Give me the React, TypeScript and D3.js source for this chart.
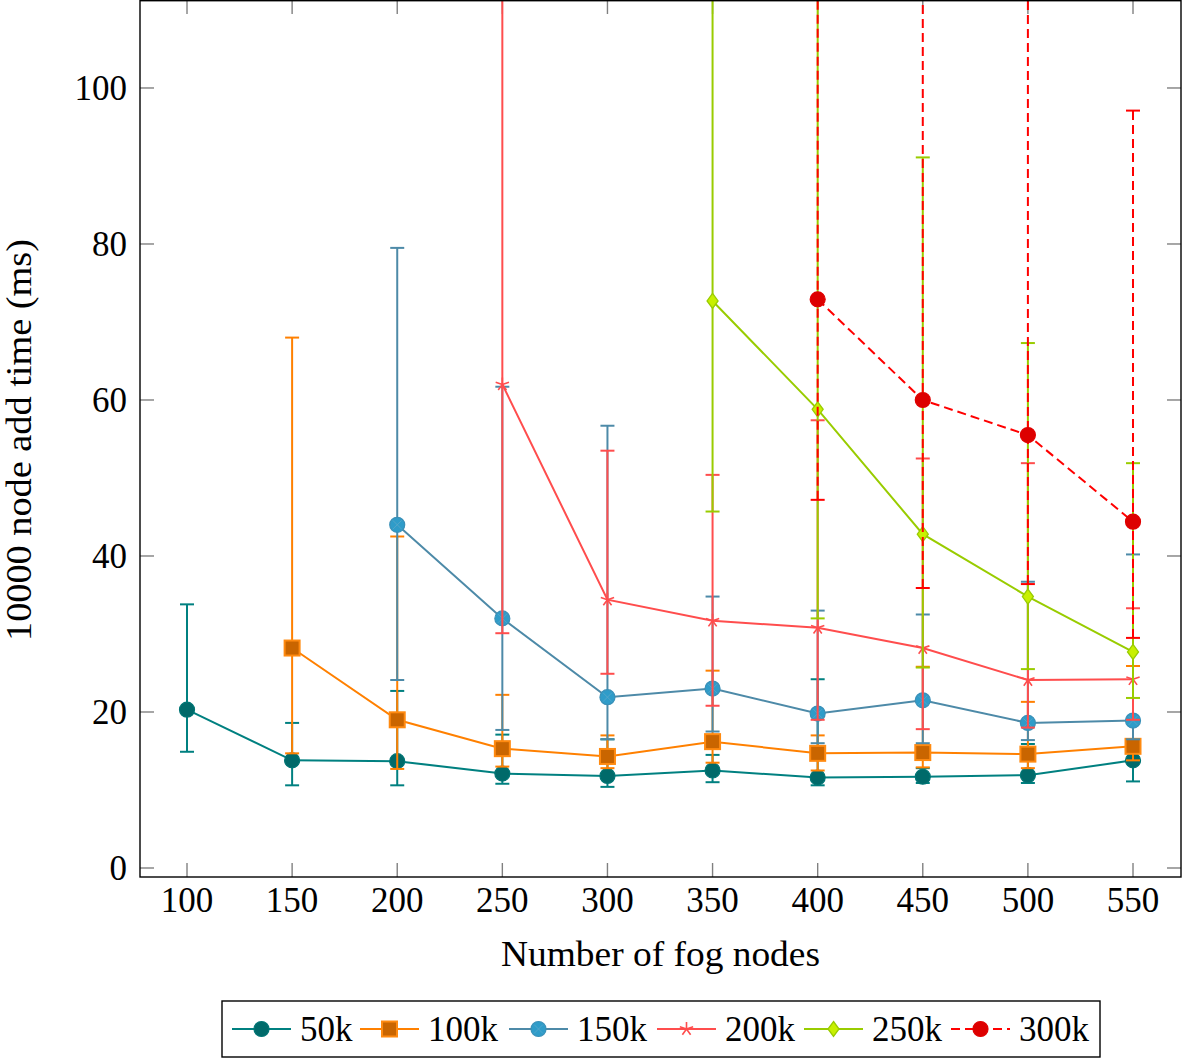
import React from 'react';
import * as d3 from 'd3';

// ---- data ----
const fogNodes = [100, 150, 200, 250, 300, 350, 400, 450, 500, 550];
const yTicks = [0, 20, 40, 60, 80, 100];

const x50k = [100, 150, 200, 250, 300, 350, 400, 450, 500, 550];
const mean50k = [20.3, 13.8, 13.7, 12.1, 11.8, 12.5, 11.6, 11.7, 11.9, 13.8];
const low50k = [14.9, 10.6, 10.6, 10.8, 10.4, 11.0, 10.6, 10.9, 10.9, 11.1];
const high50k = [33.8, 18.6, 22.7, 17.1, 16.5, 14.5, 24.2, 12.8, 15.9, 16.0];

const x100k = [150, 200, 250, 300, 350, 400, 450, 500, 550];
const mean100k = [28.2, 19.0, 15.3, 14.3, 16.2, 14.7, 14.8, 14.6, 15.6];
const low100k = [14.7, 12.7, 13.0, 12.8, 13.5, 12.5, 12.9, 12.8, 13.8];
const high100k = [68.0, 42.5, 22.2, 17.0, 25.3, 17.0, 25.8, 21.3, 25.9];

const x150k = [200, 250, 300, 350, 400, 450, 500, 550];
const mean150k = [44.0, 32.0, 21.9, 23.0, 19.8, 21.5, 18.6, 18.9];
const low150k = [24.1, 17.7, 16.5, 17.5, 16.0, 16.0, 16.4, 16.5];
const high150k = [79.5, 61.7, 56.7, 34.8, 33.0, 32.5, 36.7, 40.2];

const x200k = [250, 300, 350, 400, 450, 500, 550];
const mean200k = [62.0, 34.4, 31.7, 30.8, 28.2, 24.1, 24.2];
const low200k = [30.1, 24.9, 20.8, 19.0, 17.8, 18.0, 19.0];
const high200k = [130, 53.5, 50.4, 57.4, 52.5, 51.9, 33.3];

const x250k = [350, 400, 450, 500, 550];
const mean250k = [72.7, 58.8, 42.8, 34.8, 27.7];
const low250k = [45.7, 32.0, 25.7, 25.5, 21.8];
const high250k = [130, 130, 91.1, 67.3, 51.9];

const x300k = [400, 450, 500, 550];
const mean300k = [72.9, 60.0, 55.5, 44.4];
const low300k = [47.2, 35.9, 36.4, 29.5];
const high300k = [130, 130, 130, 97.1];

const seriesNames = ['50k', '100k', '150k', '200k', '250k', '300k'];

// ---- styles ----
type Style = { line: string; fill: string; stroke: string; mark: string; dash?: string };
const styles: Style[] = [
  { line: '#008080', fill: '#006a6a', stroke: '#007575', mark: 'circle' },
  { line: '#ff8000', fill: '#c96500', stroke: '#ff8a10', mark: 'square' },
  { line: '#4d8aa8', fill: '#2f9cc9', stroke: '#3a90b8', mark: 'ocircle' },
  { line: '#ff4d4d', fill: '#ff4d4d', stroke: '#ff4d4d', mark: 'star' },
  { line: '#99cc00', fill: '#c8f000', stroke: '#99cc00', mark: 'diamond' },
  { line: '#ff0000', fill: '#dd0000', stroke: '#e00000', mark: 'circle', dash: '9,5' },
];

const seriesData = [
  { xs: x50k, mean: mean50k, low: low50k, high: high50k },
  { xs: x100k, mean: mean100k, low: low100k, high: high100k },
  { xs: x150k, mean: mean150k, low: low150k, high: high150k },
  { xs: x200k, mean: mean200k, low: low200k, high: high200k },
  { xs: x250k, mean: mean250k, low: low250k, high: high250k },
  { xs: x300k, mean: mean300k, low: low300k, high: high300k },
];

const W = 1182;
const H = 1059;
const P = { left: 140, right: 1181, top: 0, bottom: 877 };
const FONT = "'Liberation Serif', 'DejaVu Serif', serif";
const FS = 35;

const xScale = d3.scaleLinear().domain([77.64, 572.83]).range([P.left, P.right]);
const yScale = d3.scaleLinear().domain([-1.154, 111.28]).range([P.bottom, P.top]);

function Marker({ kind, cx, cy, st }: { kind: string; cx: number; cy: number; st: Style }) {
  if (kind === 'circle') {
    return <circle cx={cx} cy={cy} r={7.5} fill={st.fill} stroke={st.stroke} strokeWidth={1.2} />;
  }
  if (kind === 'ocircle') {
    const d = 4.5;
    return (
      <g>
        <circle cx={cx} cy={cy} r={7.5} fill={st.fill} stroke={st.stroke} strokeWidth={1.2} />
        <path d={`M${cx - d},${cy - d}L${cx + d},${cy + d}M${cx - d},${cy + d}L${cx + d},${cy - d}`} stroke="#5aa6c8" strokeWidth={0.8} />
      </g>
    );
  }
  if (kind === 'square') {
    return <rect x={cx - 7.5} y={cy - 7.5} width={15} height={15} fill={st.fill} stroke={st.stroke} strokeWidth={2} />;
  }
  if (kind === 'diamond') {
    return (
      <path d={`M${cx},${cy - 7.5}L${cx + 5.5},${cy}L${cx},${cy + 7.5}L${cx - 5.5},${cy}Z`} fill={st.fill} stroke={st.stroke} strokeWidth={1.3} />
    );
  }
  const r = 7;
  const arms = d3.range(5).map((k) => {
    const a = (-90 + 72 * k) * (Math.PI / 180);
    return `M${cx},${cy}L${cx + r * Math.cos(a)},${cy + r * Math.sin(a)}`;
  });
  return <path d={arms.join('')} stroke={st.stroke} strokeWidth={1.6} fill="none" />;
}

export default function App() {
  const line = d3
    .line<[number, number]>()
    .x((d) => xScale(d[0]))
    .y((d) => yScale(d[1]));

  const legendX = [232, 360, 509, 657, 804, 951];
  const legendY = 1029;
  const txt = { fontFamily: FONT };

  return (
    <svg
      width={W}
      height={H}
      viewBox={`0 0 ${W} ${H}`}
      style={{ position: 'absolute', left: 0, top: 0, background: '#fff', fontFamily: FONT }}
    >
      <defs>
        <clipPath id="plotClip">
          <rect x={P.left} y={P.top} width={P.right - P.left} height={P.bottom - P.top} />
        </clipPath>
      </defs>
      <rect x={0} y={0} width={W} height={H} fill="#fff" />

      <g stroke="#808080" strokeWidth={1.4}>
        {fogNodes.map((v) => (
          <g key={`xt${v}`}>
            <line x1={xScale(v)} x2={xScale(v)} y1={P.bottom} y2={P.bottom - 14} />
            <line x1={xScale(v)} x2={xScale(v)} y1={P.top} y2={P.top + 14} />
          </g>
        ))}
        {yTicks.map((v) => (
          <g key={`yt${v}`}>
            <line x1={P.left} x2={P.left + 14} y1={yScale(v)} y2={yScale(v)} />
            <line x1={P.right} x2={P.right - 14} y1={yScale(v)} y2={yScale(v)} />
          </g>
        ))}
      </g>

      <g clipPath="url(#plotClip)">
        {seriesData.map((s, i) => {
          const st = styles[i];
          const pts: [number, number][] = s.xs.map((x, j) => [x, s.mean[j]]);
          return (
            <g key={`s${i}`}>
              <path d={line(pts) || ''} fill="none" stroke={st.line} strokeWidth={2} strokeDasharray={st.dash} />
              {s.xs.map((x, j) => {
                const cx = xScale(x);
                const y1 = yScale(s.low[j]);
                const y2 = yScale(s.high[j]);
                return (
                  <g key={`e${j}`} stroke={st.line} strokeWidth={2}>
                    <line x1={cx} x2={cx} y1={y1} y2={y2} strokeDasharray={st.dash} />
                    <line x1={cx - 7} x2={cx + 7} y1={y1} y2={y1} />
                    <line x1={cx - 7} x2={cx + 7} y1={y2} y2={y2} />
                  </g>
                );
              })}
              {s.xs.map((x, j) => (
                <Marker key={`m${j}`} kind={st.mark} cx={xScale(x)} cy={yScale(s.mean[j])} st={st} />
              ))}
            </g>
          );
        })}
      </g>

      <rect
        x={P.left}
        y={P.top + 0.7}
        width={P.right - P.left}
        height={P.bottom - P.top - 0.7}
        fill="none"
        stroke="#000"
        strokeWidth={1.4}
      />

      <g fontSize={FS} fill="#000">
        {fogNodes.map((v) => (
          <text key={`xl${v}`} x={xScale(v)} y={912} textAnchor="middle" style={txt}>
            {v}
          </text>
        ))}
        {yTicks.map((v) => (
          <text key={`yl${v}`} x={127} y={yScale(v) + 12} textAnchor="end" style={txt}>
            {v}
          </text>
        ))}
      </g>

      <text x={660.5} y={966} textAnchor="middle" fontSize={FS} textLength={319} lengthAdjust="spacingAndGlyphs" style={txt}>
        Number of fog nodes
      </text>
      <text
        transform={`translate(31,440) rotate(-90)`}
        textAnchor="middle"
        fontSize={FS}
        textLength={402}
        lengthAdjust="spacingAndGlyphs"
        style={txt}
      >
        10000 node add time (ms)
      </text>

      <rect x={222} y={1001} width={878} height={56} fill="#fff" stroke="#000" strokeWidth={1.4} />
      {seriesNames.map((name, i) => {
        const st = styles[i];
        const x0 = legendX[i];
        return (
          <g key={`lg${i}`}>
            <line x1={x0} x2={x0 + 59} y1={legendY} y2={legendY} stroke={st.line} strokeWidth={2} strokeDasharray={st.dash} />
            <Marker kind={st.mark} cx={x0 + 29.5} cy={legendY} st={st} />
            <text x={x0 + 68} y={legendY + 12} fontSize={FS} style={txt}>
              {name}
            </text>
          </g>
        );
      })}
    </svg>
  );
}
